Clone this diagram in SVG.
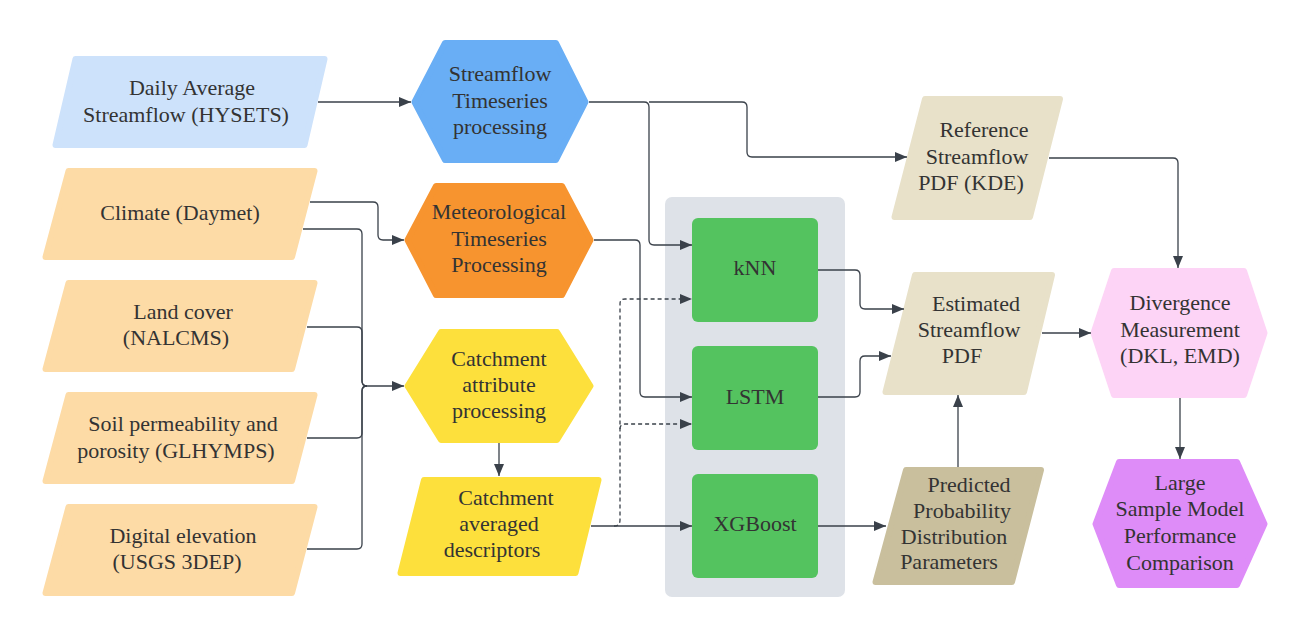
<svg xmlns="http://www.w3.org/2000/svg" width="1310" height="637" viewBox="0 0 1310 637">
<style>
.t{font-family:"Liberation Serif","Times New Roman",serif;font-size:22px;fill:#333;text-anchor:middle}
.c{fill:none;stroke:#3a414a;stroke-width:1.3}
.a{marker-end:url(#arr)}
.d{stroke-dasharray:4 3}
.s{stroke-linejoin:round;stroke-width:6}
.lb{fill:#cde2fb;stroke:#cde2fb}
.lo{fill:#fddba6;stroke:#fddba6}
.bh{fill:#69aef5;stroke:#69aef5}
.oh{fill:#f7942f;stroke:#f7942f}
.yh{fill:#fde03c;stroke:#fde03c}
.gr{fill:#54c35f}
.bg{fill:#e8e1c9;stroke:#e8e1c9}
.tn{fill:#c9bf9d;stroke:#c9bf9d}
.pk{fill:#fdd4f6;stroke:#fdd4f6}
.pu{fill:#de8cf8;stroke:#de8cf8}
</style>
<defs>
<marker id="arr" markerUnits="userSpaceOnUse" markerWidth="12" markerHeight="10" refX="12" refY="5" orient="auto">
<path d="M0,0 L12,5 L0,10 z" fill="#3a414a"/>
</marker>
</defs>
<rect width="1310" height="637" fill="#ffffff"/>

<g id="container">
<rect x="665" y="197" width="180" height="400" rx="7" fill="#dee2e8"/>
</g>

<g id="daily">
<polygon class="s lb" points="75.5,59 324.5,59 304.5,145 55.5,145"/>
<text class="t" x="192" y="95">Daily Average</text>
<text class="t" x="186" y="122">Streamflow (HYSETS)</text>
</g>

<g id="climate">
<polygon class="s lo" points="68.5,171 314.5,171 292,257 45.5,257"/>
<text class="t" x="180" y="220">Climate (Daymet)</text>
</g>

<g id="landcover">
<polygon class="s lo" points="68.5,283 314.5,283 292,369 45.5,369"/>
<text class="t" x="183" y="319">Land cover</text>
<text class="t" x="176" y="345">(NALCMS)</text>
</g>

<g id="soil">
<polygon class="s lo" points="68.5,395 314.5,395 292,481 45.5,481"/>
<text class="t" x="183" y="431">Soil permeability and</text>
<text class="t" x="176" y="458">porosity (GLHYMPS)</text>
</g>

<g id="elevation">
<polygon class="s lo" points="68.5,507 314.5,507 292,593 45.5,593"/>
<text class="t" x="183" y="543">Digital elevation</text>
<text class="t" x="177" y="569">(USGS 3DEP)</text>
</g>

<g id="streamflow-proc">
<polygon class="s bh" points="414.5,102 445,43 556,43 585.5,102 556,160 445,160"/>
<text class="t" x="500" y="81">Streamflow</text>
<text class="t" x="500" y="108">Timeseries</text>
<text class="t" x="500" y="134">processing</text>
</g>

<g id="met-proc">
<polygon class="s oh" points="407.5,240 436,186 562,186 590.5,240 562,295 436,295"/>
<text class="t" x="499" y="219">Meteorological</text>
<text class="t" x="499" y="246">Timeseries</text>
<text class="t" x="499" y="272">Processing</text>
</g>

<g id="catch-proc">
<polygon class="s yh" points="407.5,386 441,332 557,332 590.5,386 557,440 441,440"/>
<text class="t" x="499" y="366">Catchment</text>
<text class="t" x="499" y="392">attribute</text>
<text class="t" x="499" y="418">processing</text>
</g>

<g id="catch-avg">
<polygon class="s yh" points="424,480 598.5,480 575.5,573 400.5,573"/>
<text class="t" x="506" y="505">Catchment</text>
<text class="t" x="499" y="531">averaged</text>
<text class="t" x="492" y="557">descriptors</text>
</g>

<g id="knn">
<rect x="692" y="218" width="126" height="104" rx="6" class="gr"/>
<text class="t" x="755" y="275">kNN</text>
</g>

<g id="lstm">
<rect x="692" y="346" width="126" height="104" rx="6" class="gr"/>
<text class="t" x="755" y="404">LSTM</text>
</g>

<g id="xgboost">
<rect x="692" y="474" width="126" height="104" rx="6" class="gr"/>
<text class="t" x="755" y="531">XGBoost</text>
</g>

<g id="reference">
<polygon class="s bg" points="925,99 1060,99 1030,217 894.5,217"/>
<text class="t" x="984" y="137">Reference</text>
<text class="t" x="977" y="164">Streamflow</text>
<text class="t" x="971" y="190">PDF (KDE)</text>
</g>

<g id="estimated">
<polygon class="s bg" points="915,275 1052,275 1024,392 885.5,392"/>
<text class="t" x="976" y="311">Estimated</text>
<text class="t" x="969" y="337">Streamflow</text>
<text class="t" x="962" y="363">PDF</text>
</g>

<g id="predicted">
<polygon class="s tn" points="906,470 1041,470 1012,582 875.5,582"/>
<text class="t" x="969" y="492">Predicted</text>
<text class="t" x="962" y="518">Probability</text>
<text class="t" x="954" y="544">Distribution</text>
<text class="t" x="949" y="569">Parameters</text>
</g>

<g id="divergence">
<polygon class="s pk" points="1093.5,333 1114,271 1244,271 1264.5,333 1244,395 1114,395"/>
<text class="t" x="1180" y="310">Divergence</text>
<text class="t" x="1180" y="337">Measurement</text>
<text class="t" x="1180" y="363">(DKL, EMD)</text>
</g>

<g id="large-sample">
<polygon class="s pu" points="1095.5,524 1119,462 1237,462 1264.5,524 1237,585 1119,585"/>
<text class="t" x="1180" y="490">Large</text>
<text class="t" x="1180" y="516">Sample Model</text>
<text class="t" x="1180" y="543">Performance</text>
<text class="t" x="1180" y="570">Comparison</text>
</g>

<g id="connectors">
<path class="c a" d="M318,102 H411"/>
<path class="c a" d="M589,102 H644 Q649,102 649,107 V240 Q649,245 654,245 H692"/>
<path class="c a" d="M649,102 H742 Q747,102 747,107 V152 Q747,157 752,157 H907"/>
<path class="c a" d="M310,202 H373 Q378,202 378,207 V235 Q378,240 383,240 H404"/>
<path class="c" d="M303,229 H357 Q362,229 362,234 V381 Q362,386 367,386"/>
<path class="c" d="M307,327 H357 Q362,327 362,332 V381 Q362,386 367,386"/>
<path class="c" d="M307,438 H357 Q362,438 362,433 V391 Q362,386 367,386"/>
<path class="c" d="M307,549 H357 Q362,549 362,544 V391 Q362,386 367,386"/>
<path class="c a" d="M367,386 H404"/>
<path class="c a" d="M594,240 H635 Q640,240 640,245 V392 Q640,397 645,397 H692"/>
<path class="c a" d="M499,443 V476"/>
<path class="c a" d="M591,526 H692"/>
<path class="c d a" d="M614,526 Q620,526 620,520 V304 Q620,299 625,299 H692"/>
<path class="c d a" d="M620,429 Q620,424 625,424 H692"/>
<path class="c a" d="M818,270 H855 Q860,270 860,275 V304 Q860,309 865,309 H904"/>
<path class="c a" d="M818,397 H855 Q860,397 860,392 V361 Q860,356 865,356 H891"/>
<path class="c a" d="M1042,333 H1091"/>
<path class="c a" d="M1049,158 H1173 Q1178,158 1178,163 V268"/>
<path class="c a" d="M818,526 H886"/>
<path class="c a" d="M958,467 V395"/>
<path class="c a" d="M1180,398 V459"/>
</g>
</svg>
